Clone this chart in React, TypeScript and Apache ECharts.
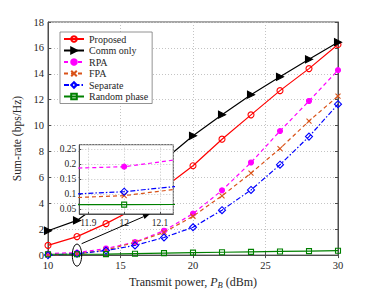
import React, { useEffect, useRef } from "react";
import * as echarts from "echarts";

// ---- data ----
const powers = [10, 12, 14, 16, 18, 20, 22, 24, 26, 28, 30];
const proposed = [0.75, 1.43, 2.43, 3.6, 5.2, 6.9, 8.95, 10.83, 12.7, 14.4, 16.26];
const commOnly = [1.88, 2.68, 4.3, 5.8, 7.35, 9.21, 10.84, 12.39, 13.77, 15.12, 16.44];
const rpa = [0.12, 0.192, 0.51, 1.0, 1.88, 3.2, 5.0, 7.15, 9.58, 11.9, 14.28];
const fpa = [0.0, 0.096, 0.39, 0.98, 1.75, 3.0, 4.58, 6.33, 8.23, 10.35, 12.28];
const separate = [0.0, 0.109, 0.35, 0.75, 1.36, 2.15, 3.47, 5.03, 6.98, 9.15, 11.65];
const randomPhase = [0.065, 0.066, 0.075, 0.11, 0.15, 0.19, 0.22, 0.25, 0.28, 0.31, 0.34];

const seriesNames = ["Proposed", "Comm only", "RPA", "FPA", "Separate", "Random phase"];
const seriesValues = [proposed, commOnly, rpa, fpa, separate, randomPhase];

// main axes ranges
const mainX = { min: 10, max: 30, interval: 5 };
const mainY = { min: 0, max: 18, interval: 2 };
// inset (zoom) ranges
const insetX = { min: 11.875, max: 12.137 };
const insetY = { min: 0.035, max: 0.265 };

// annotation anchor points (data coordinates of main plot)
const ellipseCenter = [12, 0];
const arrowFrom = [12.32, 0.88];
const arrowTo = [17.03, 3.18];

const FONT = "'Liberation Serif', 'DejaVu Serif', serif";
const TXT = "#262626";
const AXIS = "#4d4d4d";
const GRIDC = "#c4c4c4";
const CLEAR = "rgba(255,255,255,0)";

const styles: any[] = [
  { color: "#ff0000", line: "solid", symbol: "circle", size: 6, hollow: true },
  { color: "#000000", line: "solid", symbol: "triangle", size: 7, rotate: -90 },
  { color: "#ff00ff", line: [4, 3], symbol: "circle", size: 5 },
  { color: "#d95319", line: [4, 3], symbol: "path://M0,0L10,10M10,0L0,10", size: 5, hollow: true },
  { color: "#0000ff", line: [5, 2, 1.5, 2], symbol: "diamond", size: 7, hollow: true },
  { color: "#008000", line: "solid", symbol: "rect", size: 5, hollow: true },
];

function makeSeries(i: number, axisIdx: number, z: number) {
  const s = styles[i];
  return {
    type: "line",
    name: seriesNames[i],
    xAxisIndex: axisIdx,
    yAxisIndex: axisIdx,
    data: powers.map((p, k) => [p, seriesValues[i][k]]),
    symbol: s.symbol,
    symbolSize: s.size,
    symbolRotate: s.rotate || 0,
    showAllSymbol: true,
    clip: true,
    z,
    lineStyle: { color: s.color, width: 1.2, type: s.line },
    itemStyle: { color: s.hollow ? CLEAR : s.color, borderColor: s.color, borderWidth: 1.1 },
    emphasis: { disabled: true },
  };
}

export default function App() {
  const ref = useRef<HTMLDivElement>(null);
  useEffect(() => {
    if (!ref.current) return;
    const chart = echarts.init(ref.current, undefined, { renderer: "svg" });
    const labelStyle = { fontFamily: FONT, fontSize: 10.5, color: TXT };
    const option: any = {
      animation: false,
      backgroundColor: "#fff",
      grid: [
        { left: 48, top: 22, width: 290, height: 240, show: true, borderColor: AXIS, borderWidth: 1, backgroundColor: "transparent" },
        { left: 79.3, top: 144.7, width: 94, height: 69.3, show: true, borderColor: AXIS, borderWidth: 1, backgroundColor: "#fff", z: 5 },
      ],
      legend: {
        orient: "vertical",
        left: 60,
        top: 32,
        padding: [2, 4, 2, 3],
        itemWidth: 20,
        itemHeight: 7,
        itemGap: 1.5,
        backgroundColor: "#fff",
        borderColor: "#777",
        borderWidth: 0.8,
        borderRadius: 0,
        data: seriesNames,
        textStyle: { fontFamily: FONT, fontSize: 10, color: TXT, lineHeight: 10 },
        selectedMode: false,
      },
      xAxis: [
        {
          type: "value", gridIndex: 0, ...mainX,
          axisLine: { show: true, lineStyle: { color: AXIS } },
          axisTick: { inside: true, length: 3, lineStyle: { color: AXIS } },
          axisLabel: { ...labelStyle, margin: 5 },
          splitLine: { show: true, lineStyle: { color: GRIDC, type: [1, 2] } },
          name: "Transmit power, {i|P}{s|B} (dBm)",
          nameLocation: "middle",
          nameGap: 16,
          nameTextStyle: {
            fontFamily: FONT, fontSize: 12, color: TXT,
            rich: {
              i: { fontFamily: FONT, fontSize: 12, fontStyle: "italic", color: TXT },
              s: { fontFamily: FONT, fontSize: 8.5, fontStyle: "italic", color: TXT, verticalAlign: "bottom", padding: [5, 0, 0, 0] },
            },
          },
        },
        {
          type: "value", gridIndex: 1, ...insetX, splitNumber: 2, z: 6,
          axisLine: { show: true, lineStyle: { color: AXIS } },
          axisTick: { inside: true, length: 2, lineStyle: { color: AXIS } },
          axisLabel: { fontFamily: FONT, fontSize: 9.5, color: TXT, margin: 4, showMinLabel: false, showMaxLabel: false },
          splitLine: { show: true, lineStyle: { color: GRIDC, type: [1, 2] } },
        },
        {
          type: "value", gridIndex: 0, ...mainX, position: "top",
          axisLine: { show: true, lineStyle: { color: AXIS } },
          axisTick: { inside: true, length: 3, lineStyle: { color: AXIS } },
          axisLabel: { show: false },
          splitLine: { show: false },
        },
      ],
      yAxis: [
        {
          type: "value", gridIndex: 0, ...mainY,
          axisLine: { show: true, lineStyle: { color: AXIS } },
          axisTick: { inside: true, length: 3, lineStyle: { color: AXIS } },
          axisLabel: { ...labelStyle, margin: 4 },
          splitLine: { show: true, lineStyle: { color: GRIDC, type: [1, 2] } },
          name: "Sum-rate (bps/Hz)",
          nameLocation: "middle",
          nameGap: 16,
          nameTextStyle: { fontFamily: FONT, fontSize: 11.5, color: TXT },
        },
        {
          type: "value", gridIndex: 1, ...insetY, splitNumber: 5, z: 6,
          axisLine: { show: true, lineStyle: { color: AXIS } },
          axisTick: { inside: true, length: 2, lineStyle: { color: AXIS } },
          axisLabel: { fontFamily: FONT, fontSize: 9.5, color: TXT, margin: 3, showMinLabel: false, showMaxLabel: false },
          splitLine: { show: true, lineStyle: { color: GRIDC, type: [1, 2] } },
        },
        {
          type: "value", gridIndex: 0, ...mainY, position: "right",
          axisLine: { show: true, lineStyle: { color: AXIS } },
          axisTick: { inside: true, length: 3, lineStyle: { color: AXIS } },
          axisLabel: { show: false },
          splitLine: { show: false },
        },
      ],
      series: [
        ...seriesNames.map((_, i) => makeSeries(i, 0, 2)),
        ...seriesNames.map((_, i) => makeSeries(i, 1, 7)),
      ],
    };
    chart.setOption(option);

    const px = (p: number[]) => chart.convertToPixel({ gridIndex: 0 } as any, p) as number[];
    const c = px(ellipseCenter);
    const a0 = px(arrowFrom);
    const a1 = px(arrowTo);
    const dx = a1[0] - a0[0];
    const dy = a1[1] - a0[1];
    const len = Math.hypot(dx, dy);
    const ux = dx / len, uy = dy / len;
    const nx = -uy, ny = ux;
    const hl = 7, hw = 2.6;
    const bx = a1[0] - ux * hl, by = a1[1] - uy * hl;
    chart.setOption({
      graphic: [
        { type: "ellipse", z: 20, shape: { cx: c[0], cy: c[1], rx: 4.7, ry: 11 }, style: { fill: "none", stroke: "#000", lineWidth: 1 } },
        { type: "line", z: 20, shape: { x1: a0[0], y1: a0[1], x2: bx, y2: by }, style: { stroke: "#000", lineWidth: 1 } },
        { type: "polygon", z: 20, shape: { points: [[a1[0], a1[1]], [bx + nx * hw, by + ny * hw], [bx - nx * hw, by - ny * hw]] }, style: { fill: "#000" } },
      ],
    });
    return () => chart.dispose();
  }, []);
  return <div ref={ref} style={{ position: "absolute", left: 0, top: 0, width: 374, height: 294 }} />;
}
